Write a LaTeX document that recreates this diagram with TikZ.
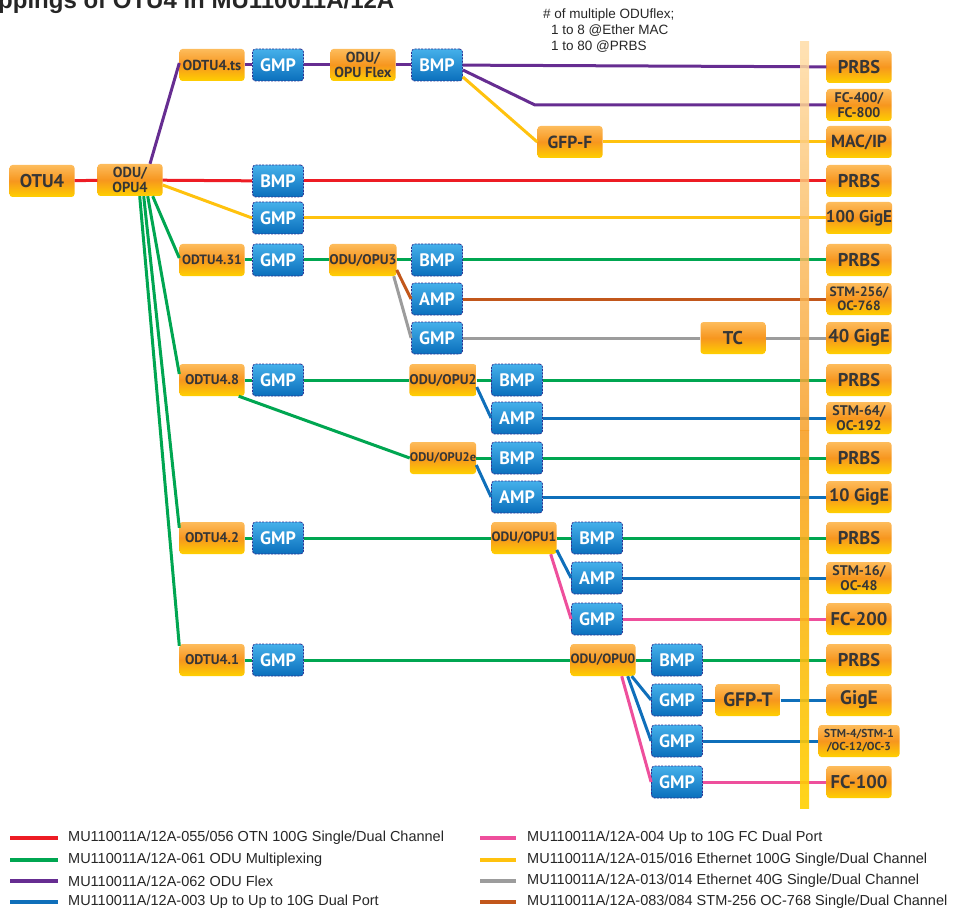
\documentclass[tikz,border=0pt]{standalone}
\usepackage{fontspec}
\setmainfont{PT Sans}
\newfontfamily\arialf{Liberation Sans}
\definecolor{cred}{HTML}{ED1C24}
\definecolor{cgreen}{HTML}{00A651}
\definecolor{cpurple}{HTML}{662D91}
\definecolor{cblue}{HTML}{0F6FBA}
\definecolor{cpink}{HTML}{EE4F9C}
\definecolor{cyellow}{HTML}{FFC20E}
\definecolor{cgrey}{HTML}{9C9C9C}
\definecolor{cbrown}{HTML}{C2571B}
\definecolor{oT}{HTML}{FDBC5C}
\definecolor{oM}{HTML}{F7961E}
\definecolor{oB}{HTML}{FFD000}
\definecolor{bT}{HTML}{45B0EA}
\definecolor{bB}{HTML}{0A6FBC}
\definecolor{navy}{HTML}{2E3192}
\definecolor{txt}{HTML}{363636}
\definecolor{barA}{HTML}{FFDCA6}
\definecolor{barB}{HTML}{F7A028}
\definecolor{barC}{HTML}{FFD000}
\newcommand\fsz[2]{\fontsize{#1}{#2}\selectfont\bfseries}
\begin{document}
\begin{tikzpicture}[x=1pt,y=-1pt,
  obox/.style={rounded corners=3pt, minimum width=65pt, minimum height=32pt, inner sep=0pt,
    top color=oT, bottom color=oB, middle color=oM, text=txt, align=center, font=\fsz{18.5}{19}},
  bbox/.style={rounded corners=3pt, minimum width=51pt, minimum height=32pt, inner sep=0pt,
    top color=bT, bottom color=bB, draw=navy, line width=0.8pt, dash pattern=on 2pt off 1.3pt,
    text=white, font=\fsz{18}{19}},
  ln/.style={line width=3pt},
  lg/.style={line width=4pt},
  lgtext/.style={anchor=west, inner sep=0pt, font=\arialf\fontsize{14.5}{16}\selectfont, text=black!85}
]
\useasboundingbox (0,0) rectangle (956,912);

% title
\node[anchor=base west, inner sep=0pt, font=\arialf\bfseries\fontsize{24}{26}\selectfont, text=black!85] (title) at (-2,9) {ppings of OTU4 in MU110011A/12A};
% annotation
\node[anchor=north west, inner sep=0pt, align=left, font=\arialf\fontsize{13.5}{16}\selectfont, text=black!85] (note) at (543,9)
  {\# of multiple ODUflex;\\\hspace*{8pt}1 to 8 @Ether MAC\\\hspace*{8pt}1 to 80 @PRBS};

% left part
\node[obox] (otu4) at (42,181) {OTU4};
\node[obox,font=\fsz{14.5}{15}] (odu4) at (130,180) {ODU/\\OPU4};
\node[obox,font=\fsz{14.5}{15}] (odtuts) at (212,65) {ODTU4.ts};
\node[bbox] (gmpts) at (278,65) {GMP};
\node[obox,font=\fsz{14.5}{15}] (oduflex) at (363,65) {ODU/\\OPU Flex};
\node[bbox] (bmpflex) at (437,65) {BMP};
\node[obox,font=\fsz{17.5}{18}] (gfpf) at (570,142) {GFP-F};
\coordinate (kflex) at (535,105);

\node[bbox] (bmp4) at (278,181) {BMP};
\node[bbox] (gmp4) at (278,218) {GMP};

\node[obox,font=\fsz{13.5}{14}] (odtu31) at (212,260) {ODTU4.31};
\node[bbox] (gmp31) at (278,260) {GMP};
\node[obox,font=\fsz{14}{14}] (odu3) at (363,260) {ODU/OPU3};
\node[bbox] (bmp3) at (437,260) {BMP};
\node[bbox] (amp3) at (437,299) {AMP};
\node[bbox] (gmp3) at (437,338) {GMP};
\node[obox] (tc) at (733,338) {TC};

\node[obox,font=\fsz{14}{14}] (odtu8) at (212,380) {ODTU4.8};
\node[bbox] (gmp8) at (278,380) {GMP};
\node[obox,font=\fsz{14}{14}] (odu2) at (443,380) {ODU/OPU2};
\node[bbox] (bmp2) at (517,380) {BMP};
\node[bbox] (amp2) at (517,418) {AMP};
\node[obox,font=\fsz{12.5}{13}] (odu2e) at (443,458) {ODU/OPU2e};
\node[bbox] (bmp2e) at (517,458) {BMP};
\node[bbox] (amp2e) at (517,497) {AMP};

\node[obox,font=\fsz{14}{14}] (odtu2) at (212,538) {ODTU4.2};
\node[bbox] (gmp2) at (278,538) {GMP};
\node[obox,font=\fsz{13.5}{14}] (odu1) at (524,538) {ODU/OPU1};
\node[bbox] (bmp1) at (597,538) {BMP};
\node[bbox] (amp1) at (597,578) {AMP};
\node[bbox] (gmp1) at (597,619) {GMP};

\node[obox,font=\fsz{14}{14}] (odtu1) at (212,660) {ODTU4.1};
\node[bbox] (gmp1x) at (278,660) {GMP};
\node[obox,font=\fsz{13.5}{14}] (odu0) at (603,660) {ODU/OPU0};
\node[bbox] (bmp0) at (677,660) {BMP};
\node[bbox] (gmp0a) at (677,700) {GMP};
\node[obox,font=\fsz{19.5}{20}] (gfpt) at (748,700) {GFP-T};
\node[bbox] (gmp0b) at (677,741) {GMP};
\node[bbox] (gmp0c) at (677,782) {GMP};

% right column
\node[obox] (r1) at (859,67) {PRBS};
\node[obox,font=\fsz{14}{15}] (r2) at (859,105) {FC-400/\\FC-800};
\node[obox,font=\fsz{17.5}{18}] (r3) at (859,142) {MAC/IP};
\node[obox] (r4) at (859,181) {PRBS};
\node[obox,font=\fsz{17}{17}] (r5) at (859,218) {100 GigE};
\node[obox] (r6) at (859,260) {PRBS};
\node[obox,font=\fsz{13.5}{14.5}] (r7) at (859,299) {STM-256/\\OC-768};
\node[obox,font=\fsz{18.5}{19}] (r8) at (859,338) {40 GigE};
\node[obox] (r9) at (859,380) {PRBS};
\node[obox,font=\fsz{14}{15}] (r10) at (859,418) {STM-64/\\OC-192};
\node[obox] (r11) at (859,458) {PRBS};
\node[obox,font=\fsz{18}{19}] (r12) at (859,497) {10 GigE};
\node[obox] (r13) at (859,538) {PRBS};
\node[obox,font=\fsz{14}{15}] (r14) at (859,578) {STM-16/\\OC-48};
\node[obox] (r15) at (859,619) {FC-200};
\node[obox] (r16) at (859,660) {PRBS};
\node[obox,font=\fsz{19.5}{20}] (r17) at (859,700) {GigE};
\node[obox,minimum width=81pt,font=\fsz{11.5}{13}] (r18) at (859,741) {STM-4/STM-1\\/OC-12/OC-3};
\node[obox] (r19) at (859,782) {FC-100};

% connectors
% red
\draw[ln,cred] (otu4) -- (odu4);
\draw[ln,cred] (odu4) -- (bmp4);
\draw[ln,cred] (bmp4) -- (r4);
% purple
\draw[ln,cpurple] ([xshift=20pt]odu4.north) -- ([yshift=2pt]odtuts.west);
\draw[ln,cpurple] (odtuts) -- (gmpts);
\draw[ln,cpurple] (gmpts) -- (oduflex);
\draw[ln,cpurple] (oduflex) -- (bmpflex);
\draw[ln,cpurple] (bmpflex) -- (r1);
\draw[ln,cpurple] ([yshift=-5pt]bmpflex.east) -- (kflex) -- (r2);
% yellow
\draw[ln,cyellow] ([yshift=-12pt]bmpflex.east) -- (gfpf.west);
\draw[ln,cyellow] (gfpf) -- (r3);
\draw[ln,cyellow] ([yshift=-5pt]odu4.east) -- (gmp4.west);
\draw[ln,cyellow] (gmp4) -- (r5);
% green from ODU4
\draw[ln,cgreen] ([xshift=-10pt]odu4.south east) -- ([yshift=2pt]odtu31.west);
\draw[ln,cgreen] ([xshift=-15pt]odu4.south east) -- ([yshift=6pt]odtu8.west);
\draw[ln,cgreen] ([xshift=-19pt]odu4.south east) -- ([yshift=-6pt]odtu2.north west);
\draw[ln,cgreen] ([xshift=-23pt]odu4.south east) -- ([yshift=-2pt]odtu1.north west);
% ODU3 row
\draw[ln,cgreen] (odtu31) -- (gmp31);
\draw[ln,cgreen] (gmp31) -- (odu3);
\draw[ln,cgreen] (odu3) -- (bmp3);
\draw[ln,cgreen] (bmp3) -- (r6);
\draw[ln,cbrown] ([yshift=-10pt]odu3.east) -- (amp3.west);
\draw[ln,cbrown] (amp3) -- (r7);
\draw[ln,cgrey] ([xshift=-3pt]odu3.south east) -- (gmp3.west);
\draw[ln,cgrey] (gmp3) -- (tc);
\draw[ln,cgrey] (tc) -- (r8);
% ODU2 rows
\draw[ln,cgreen] (odtu8) -- (gmp8);
\draw[ln,cgreen] (gmp8) -- (odu2);
\draw[ln,cgreen] (odu2) -- (bmp2);
\draw[ln,cgreen] (bmp2) -- (r9);
\draw[ln,cblue] ([yshift=-7pt]odu2.east) -- (amp2.west);
\draw[ln,cblue] (amp2) -- (r10);
\draw[ln,cgreen] ([xshift=-6pt]odtu8.south east) -- (odu2e.west);
\draw[ln,cgreen] (odu2e) -- (bmp2e);
\draw[ln,cgreen] (bmp2e) -- (r11);
\draw[ln,cblue] ([yshift=-7pt]odu2e.east) -- (amp2e.west);
\draw[ln,cblue] (amp2e) -- (r12);
% ODU1 rows
\draw[ln,cgreen] (odtu2) -- (gmp2);
\draw[ln,cgreen] (gmp2) -- (odu1);
\draw[ln,cgreen] (odu1) -- (bmp1);
\draw[ln,cgreen] (bmp1) -- (r13);
\draw[ln,cblue] ([yshift=-12pt]odu1.east) -- (amp1.west);
\draw[ln,cblue] (amp1) -- (r14);
\draw[ln,cpink] ([xshift=-6pt]odu1.south east) -- (gmp1.west);
\draw[ln,cpink] (gmp1) -- (r15);
% ODU0 rows
\draw[ln,cgreen] (odtu1) -- (gmp1x);
\draw[ln,cgreen] (gmp1x) -- (odu0);
\draw[ln,cgreen] (odu0) -- (bmp0);
\draw[ln,cgreen] (bmp0) -- (r16);
\draw[ln,cblue] ([xshift=-4pt]odu0.south east) -- (gmp0a.west);
\draw[ln,cblue] (gmp0a) -- (gfpt);
\draw[ln,cblue] (gfpt) -- (r17);
\draw[ln,cblue] ([xshift=-8pt]odu0.south east) -- (gmp0b.west);
\draw[ln,cblue] (gmp0b) -- (r18);
\draw[ln,cpink] ([xshift=-14pt]odu0.south east) -- (gmp0c.west);
\draw[ln,cpink] (gmp0c) -- (r19);

% vertical bar
\shade[top color=barA, bottom color=barB, opacity=0.85] (800,42) rectangle (809,430);
\shade[top color=barB, bottom color=barC, opacity=0.9] (800,430) rectangle (809,808);

% legend
\draw[lg,cred] (10,838) -- (58,838);
\node[lgtext] (t1) at (68,838) {MU110011A/12A-055/056 OTN 100G Single/Dual Channel};
\draw[lg,cgreen] (10,860) -- (58,860);
\node[lgtext] (t2) at (68,860) {MU110011A/12A-061 ODU Multiplexing};
\draw[lg,cpurple] (10,881) -- (58,881);
\node[lgtext] (t3) at (68,881) {MU110011A/12A-062 ODU Flex};
\draw[lg,cblue] (10,902) -- (58,902);
\node[lgtext] (t4) at (68,902) {MU110011A/12A-003 Up to Up to 10G Dual Port};
\draw[lg,cpink] (480,838) -- (516,838);
\node[lgtext] (t5) at (527,838) {MU110011A/12A-004 Up to 10G FC Dual Port};
\draw[lg,cyellow] (480,860) -- (516,860);
\node[lgtext] (t6) at (527,860) {MU110011A/12A-015/016 Ethernet 100G Single/Dual Channel};
\draw[lg,cgrey] (480,881) -- (516,881);
\node[lgtext] (t7) at (527,881) {MU110011A/12A-013/014 Ethernet 40G Single/Dual Channel};
\draw[lg,cbrown] (480,902) -- (516,902);
\node[lgtext] (t8) at (527,902) {MU110011A/12A-083/084 STM-256 OC-768 Single/Dual Channel};
\end{tikzpicture}
\end{document}
